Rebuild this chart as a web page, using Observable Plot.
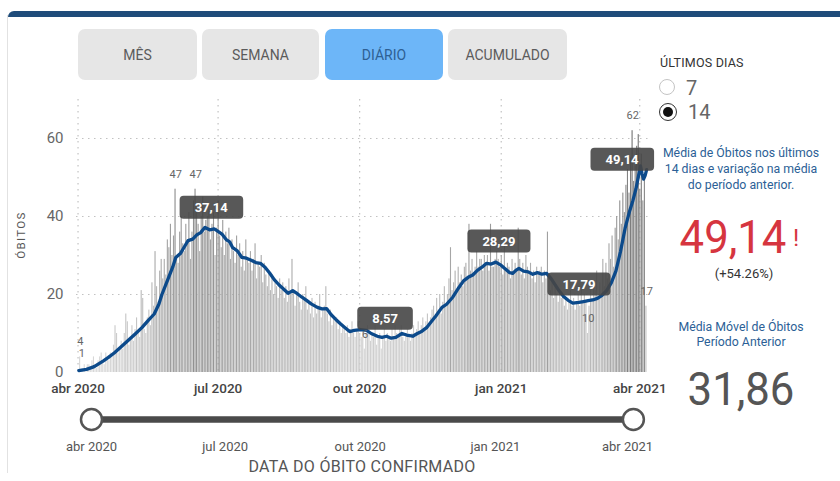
<!DOCTYPE html>
<html><head><meta charset="utf-8">
<script src="https://cdn.jsdelivr.net/npm/d3@7"></script>
<script src="https://cdn.jsdelivr.net/npm/@observablehq/plot@0.6"></script>
<style>
html,body{margin:0;padding:0;background:#fff;}
#root{position:relative;width:840px;height:481px;overflow:hidden;font-family:Roboto,"DejaVu Sans",sans-serif;background:#fff;}
.abs{position:absolute;}
.topbar{left:8px;top:11px;width:832px;height:6px;background:#1f4c7a;border-top-left-radius:6px;}
.leftborder{left:7px;top:15px;width:1px;height:458px;background:#e2e2e2;}
.btn{top:29px;height:51px;border-radius:7px;background:#e6e6e6;color:#5b5b5b;font-size:14px;display:flex;align-items:center;justify-content:center;}
.btn.on{background:#6db6f8;color:#2e5f93;}
.blue{color:#2c5f96;text-align:center;font-size:12.3px;}
.big{font-size:46px;line-height:46px;text-align:center;transform:scaleX(0.95);}
</style></head>
<body>
<div id="root">
  <div class="abs topbar"></div>
  <div class="abs leftborder"></div>
  <div class="abs btn" style="left:78px;width:119px;">MÊS</div>
  <div class="abs btn" style="left:202px;width:117px;">SEMANA</div>
  <div class="abs btn on" style="left:325px;width:118px;">DIÁRIO</div>
  <div class="abs btn" style="left:448px;width:119px;">ACUMULADO</div>

  <div class="abs" style="left:660px;top:55px;font-size:12.5px;color:#333;line-height:16px;letter-spacing:0.2px;">ÚLTIMOS DIAS</div>
  <div class="abs" style="left:659px;top:79px;width:16px;height:16px;border:1.3px solid #c4c4c4;border-radius:50%;box-sizing:border-box;"></div>
  <div class="abs" style="left:686px;top:76px;font-size:20px;line-height:24px;color:#666;">7</div>
  <div class="abs" style="left:659px;top:103px;width:18px;height:18px;border:1.6px solid #333;border-radius:50%;box-sizing:border-box;display:flex;align-items:center;justify-content:center;"><div style="width:10px;height:10px;border-radius:50%;background:#111;"></div></div>
  <div class="abs" style="left:688px;top:100px;font-size:20px;line-height:24px;color:#666;">14</div>

  <div class="abs blue" style="left:646px;top:145px;width:190px;line-height:16px;">Média de Óbitos nos últimos<br>14 dias e variação na média<br>do período anterior.</div>
  <div class="abs big" style="left:672px;top:214px;width:122px;color:#d6353f;">49,14</div>
  <div class="abs" style="left:793px;top:226px;font-size:24px;line-height:24px;color:#d6353f;">!</div>
  <div class="abs" style="left:694px;top:266px;width:100px;text-align:center;font-size:13px;line-height:16px;color:#333;">(+54.26%)</div>
  <div class="abs blue" style="left:646px;top:320px;width:190px;line-height:15px;">Média Móvel de Óbitos<br>Período Anterior</div>
  <div class="abs big" style="left:680px;top:366px;width:122px;color:#555;">31,86</div>

  <div class="abs" style="left:-9px;top:228px;width:60px;text-align:center;transform:rotate(-90deg);font-size:11.5px;line-height:14px;letter-spacing:1.3px;color:#555;">ÓBITOS</div>

  <div class="abs" id="chart" style="left:0;top:90px;"></div>
  <div class="abs" id="slider" style="left:0;top:400px;"></div>
  <div class="abs" style="left:212px;top:457px;width:300px;text-align:center;font-size:16px;line-height:20px;color:#555;letter-spacing:0.3px;">DATA DO ÓBITO CONFIRMADO</div>
</div>
<script>
// ---- data ----
const startDay = "2020-04-01";
const barValues = [
  0,4,1,1,2,0,2,
  2,1,3,4,2,1,3,
  4,5,3,2,5,4,3,
  5,4,7,12,10,5,6,
  8,6,10,15,13,7,9,
  12,8,11,14,10,9,21,
  19,11,10,14,16,12,23,
  17,31,22,18,26,29,24,
  29,25,34,32,38,30,35,
  47,30,28,36,40,33,31,
  38,34,41,29,36,44,47,
  42,38,31,40,45,36,39,
  40,43,34,38,41,30,37,
  44,35,32,39,30,36,33,
  37,29,34,31,28,35,30,
  33,27,31,26,34,29,28,
  31,26,29,33,24,28,27,
  30,23,28,25,22,26,21,
  25,20,23,22,19,24,21,
  23,19,22,18,24,20,29,
  21,17,20,23,18,16,20,
  19,22,16,18,15,19,14,
  18,15,17,20,14,16,17,
  22,15,13,16,12,14,13,
  14,11,13,10,12,11,10,
  12,9,11,13,10,9,11,
  13,10,9,11,6,10,12,
  11,8,10,9,12,7,9,
  10,6,9,11,8,10,9,
  8,11,9,12,10,9,11,
  12,9,8,10,11,9,8,
  10,12,9,11,13,10,12,
  14,11,13,15,12,14,16,
  17,14,19,16,20,15,18,
  22,17,20,24,32,21,23,
  26,21,27,23,25,22,27,
  28,24,38,26,29,25,27,
  31,27,29,29,26,30,28,
  30,26,38,27,27,29,31,
  29,27,30,25,33,26,28,
  27,24,29,25,28,26,37,
  29,25,28,24,30,27,26,
  28,24,26,23,27,25,26,
  27,23,26,24,36,25,21,
  23,19,22,20,18,21,19,
  20,17,19,16,18,21,17,
  19,16,18,20,17,22,18,
  20,18,10,17,21,19,22,
  21,26,19,23,20,29,22,
  28,24,33,29,35,27,37,
  40,34,44,38,46,41,48,
  52,46,55,62,49,53,58,
  61,47,56,44,50,17
];
const maDays = [0,5,10,16,19,23,27,32,37,41,45,49,52,54,58,61,63,66,69,71,74,77,79,82,85,88,90,93,96,98,100,103,106,109,112,115,118,121,124,127,130,133,136,139,142,145,148,151,155,158,161,164,167,170,173,176,179,183,187,190,194,197,200,203,206,210,213,217,220,223,226,229,232,236,239,243,247,250,253,256,259,262,265,268,271,274,277,280,282,284,286,289,292,295,298,301,304,307,310,312,315,318,321,325,328,331,334,337,340,343,346,349,352,355,358,360,362,364,365,366,367,368,369];
const maValues = [0.5,0.8,1.5,3,3.8,5,6.4,8.2,10,11.5,13.3,15,17.5,20,24,27,29.5,30.5,32.5,33.8,34.2,35.4,35.8,37.2,36.6,36.8,36.3,35.5,34,33.5,32,31.2,29.5,29.3,28.8,28.2,28,27,25.5,23.8,22.5,21.4,20.3,21,20.2,19.3,18.5,17.6,16.7,16.3,16.4,14.8,13.6,12.5,11.5,10.5,10.8,11,10.8,10,9.3,9,9.3,8.8,9,10,9.6,9.3,10,10.6,11.5,13,14.5,16.7,17.5,19.3,21.8,23.5,24.4,25,26.2,27,28,27.8,28.3,27.6,26.6,25.6,25.4,26.2,26.7,26,25.8,25.2,25.6,25.2,25.4,24,22.2,21,19.5,18.5,17.8,18,18.2,18.4,18.6,19,19.8,21,23,26,31,37,41.5,44,47,51,53,51,49.6,50.5,52];
const labeledDays = [1,2,63,76,186,331,360,369];
const tipDates = ["2020-06-26","2020-10-17","2020-12-30","2021-02-20","2021-03-20"];
const tipValues = [42.3,13.8,33.6,22.6,54.6];
const tipLabels = ["37,14","8,57","28,29","17,79","49,14"];
const xTickDates = ["2020-04-01","2020-07-01","2020-10-01","2021-01-01","2021-04-01"];
const xTickLabels = ["abr 2020","jul 2020","out 2020","jan 2021","abr 2021"];
const yTicks = [0,20,40,60];

// ---- derived tables ----
const t0 = new Date(startDay + "T00:00:00Z");
const bars = barValues.map((v, i) => ({
  x1: d3.utcDay.offset(t0, i), x2: d3.utcDay.offset(t0, i + 1),
  mid: d3.utcHour.offset(d3.utcDay.offset(t0, i), 12), value: v
}));
const ma = maDays.map((d, i) => ({date: d3.utcHour.offset(d3.utcDay.offset(t0, d), 12), value: maValues[i]}));
const lbls = labeledDays.map(d => bars[d]);
const tips = tipDates.map((d, i) => ({date: new Date(d + "T12:00:00Z"), value: tipValues[i], label: tipLabels[i]}));
const ticks = xTickDates.map(d => new Date(d + "T00:00:00Z"));
const tickLabel = new Map(ticks.map((d, i) => [+d, xTickLabels[i]]));
const fmt = d => tickLabel.get(+d);

const chart = Plot.plot({
  width: 660, height: 310, marginLeft: 76, marginRight: 10, marginTop: 9, marginBottom: 28,
  style: {fontFamily: "Roboto, sans-serif", background: "transparent", overflow: "visible"},
  x: {type: "utc", domain: [new Date("2020-03-31T00:00:00Z"), new Date("2021-04-08T00:00:00Z")]},
  y: {domain: [0, 70]},
  color: {type: "linear", domain: [0, 62], range: ["#dedede", "#717171"]},
  marks: [
    Plot.ruleY(yTicks.filter(v => v > 0), {stroke: "#c2c2c2", strokeDasharray: "1.5,4.5", strokeWidth: 1.2}),
    Plot.ruleX(ticks, {stroke: "#c2c2c2", strokeDasharray: "1.5,4.5", strokeWidth: 1.2}),
    Plot.rectY(bars, {x1: "x1", x2: "x2", y: "value", fill: "value", insetRight: 0.45}),
    Plot.line(ma, {x: "date", y: "value", stroke: "#0c4a8b", strokeWidth: 3.3, strokeLinejoin: "round", strokeLinecap: "round"}),
    Plot.text(lbls, {x: "mid", y: "value", text: d => String(d.value), dy: -15, fill: "#666", fontSize: 11}),
    Plot.text(tips, {x: "date", y: "value", text: "label", fill: "#fff", fontSize: 13, fontWeight: "bold"}),
    Plot.axisX({ticks: ticks, tickFormat: fmt, tickSize: 0, tickPadding: 11, fontSize: 13.5, fontWeight: 500, color: "#444", label: null}),
    Plot.axisY({ticks: yTicks, tickSize: 0, tickPadding: 13, fontSize: 15, color: "#666", label: null})
  ]
});
document.getElementById("chart").appendChild(chart);

// rounded dark boxes behind the tooltip labels (last text mark group)
const textGroups = chart.querySelectorAll('g[aria-label="text"]');
const tipGroup = textGroups[textGroups.length - 1];
if (tipGroup) {
  tipGroup.querySelectorAll("text").forEach(t => {
    const b = t.getBBox();
    const r = document.createElementNS("http://www.w3.org/2000/svg", "rect");
    r.setAttribute("x", b.x - 15); r.setAttribute("y", b.y - 4);
    r.setAttribute("width", b.width + 30); r.setAttribute("height", b.height + 8);
    r.setAttribute("rx", 4); r.setAttribute("fill", "#464646"); r.setAttribute("fill-opacity", 0.9);
    r.setAttribute("stroke", "none");
    if (t.getAttribute("transform")) r.setAttribute("transform", t.getAttribute("transform"));
    t.parentNode.insertBefore(r, t);
  });
}

const sliderEnds = [bars[0].x1, bars[bars.length - 1].x1];
const slider = Plot.plot({
  width: 660, height: 60, marginLeft: 91, marginRight: 33, marginTop: 0, marginBottom: 22,
  style: {fontFamily: "Roboto, sans-serif", background: "transparent", overflow: "visible"},
  x: {type: "utc", domain: [ticks[0], ticks[ticks.length - 1]]},
  y: {domain: [-1, 1], axis: null},
  marks: [
    Plot.line(sliderEnds, {x: d => d, y: () => 0, stroke: "#4a4a4a", strokeWidth: 6.5}),
    Plot.dot(sliderEnds, {x: d => d, y: () => 0, r: 10.5, fill: "#fff", stroke: "#555", strokeWidth: 2.5}),
    Plot.axisX({ticks: ticks, tickFormat: fmt, tickSize: 0, tickPadding: 3, fontSize: 13, color: "#555", label: null})
  ]
});
document.getElementById("slider").appendChild(slider);
</script>
</body></html>
